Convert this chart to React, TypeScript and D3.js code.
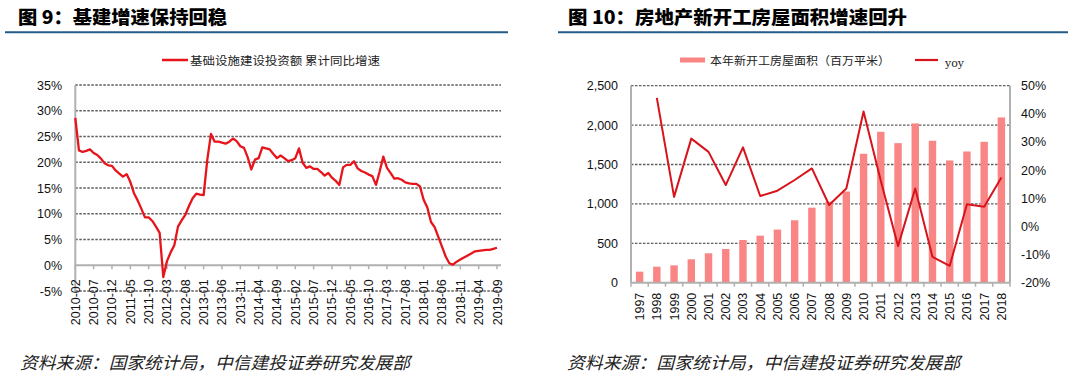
import React from "react";
import * as d3 from "d3";

// ---------- Left chart data: 基础设施建设投资额 累计同比增速 (%), monthly 2010-02 .. 2019-09 ----------
const infraStart = "2010-02";
const infraGrowth: number[] = [
  28.6, 22.3, 22.0, 22.2, 22.5, 21.8, 21.4, 20.7, 19.8, 19.4, 19.3, 18.4,
  17.8, 17.2, 17.7, 16.2, 14.0, 12.6, 11.0, 9.3, 9.3, 8.6, 7.5, 6.3,
  -2.3, 0.8, 2.5, 3.9, 7.5, 8.7, 9.8, 11.5, 13.0, 13.9, 13.7, 13.6,
  20.5, 25.5, 24.0, 24.0, 23.8, 23.6, 24.0, 24.6, 24.1, 23.1, 22.8, 21.0,
  18.6, 20.5, 20.8, 22.9, 22.7, 22.5, 21.6, 20.8, 21.3, 20.8, 20.2, 20.4,
  20.8, 22.7, 19.9, 18.9, 19.2, 18.7, 18.7, 18.1, 17.4, 17.9, 17.0, 16.4,
  15.6, 19.0, 19.5, 19.5, 20.2, 18.8, 18.3, 18.0, 17.6, 17.3, 15.6, 18.2,
  21.1, 18.9, 17.9, 16.8, 16.9, 16.6, 16.1, 15.9, 15.8, 15.8, 15.3, 12.7,
  11.2, 8.4, 7.4, 5.5, 3.6, 1.7, 0.4, 0.1, 0.7, 1.1, 1.5, 1.9,
  2.3, 2.7, 2.8, 2.9, 3.0, 3.0, 3.2, 3.4,
];
const infraTickLabels: string[] = [
  "2010-02", "2010-07", "2010-12", "2011-05", "2011-10", "2012-03", "2012-08", "2013-01",
  "2013-06", "2013-11", "2014-04", "2014-09", "2015-02", "2015-07", "2015-12", "2016-05",
  "2016-10", "2017-03", "2017-08", "2018-01", "2018-06", "2018-11", "2019-04", "2019-09",
];
const infraYTicks: number[] = [-5, 0, 5, 10, 15, 20, 25, 30, 35];

// ---------- Right chart data ----------
const years: string[] = [
  "1997", "1998", "1999", "2000", "2001", "2002", "2003", "2004", "2005", "2006", "2007",
  "2008", "2009", "2010", "2011", "2012", "2013", "2014", "2015", "2016", "2017", "2018",
];
const newStartArea: number[] = [
  140, 203, 220, 297, 373, 428, 542, 597, 674, 792, 952,
  1028, 1157, 1636, 1915, 1771, 2021, 1801, 1551, 1665, 1788, 2097,
];
const newStartYoy: (number | null)[] = [
  null, 45.7, 10.5, 31.2, 26.5, 14.7, 28.1, 10.8, 12.7, 16.5, 20.6,
  7.6, 13.5, 40.8, 16.2, -7.0, 13.5, -10.8, -14.0, 7.9, 7.0, 17.4,
];
const areaTicks: number[] = [0, 500, 1000, 1500, 2000, 2500];
const yoyTicks: number[] = [-20, -10, 0, 10, 20, 30, 40, 50];

const NUM_FONT = "'Liberation Sans', Arial, sans-serif";
const CJK_FONT = "'Noto Sans CJK SC', 'Noto Sans', sans-serif";
const GRID = "#5e5e5e";
const AXIS = "#b0b0b0";
const RULE = "#245a8a";

function LeftChart() {
  const parse = d3.timeParse("%Y-%m");
  const fmt = d3.timeFormat("%Y-%m");
  const start = parse(infraStart)!;
  const months = infraGrowth.map((_, i) => fmt(d3.timeMonth.offset(start, i)));
  const x = d3.scalePoint<string>().domain(months).range([75.3, 497]);
  const y = d3.scaleLinear().domain([-5, 35]).range([291, 85]);
  const line = d3
    .line<number>()
    .x((_, i) => x(months[i])!)
    .y((d) => y(d));
  const y0 = y(0);
  return (
    <g>
      <text x={18} y={24} fontFamily={CJK_FONT} fontWeight={900} fontSize={18} fill="#000" textLength={209} lengthAdjust="spacingAndGlyphs">
        图 9：基建增速保持回稳
      </text>
      <line x1={5} x2={508} y1={32.3} y2={32.3} stroke={RULE} strokeWidth={2} />
      {/* legend */}
      <line x1={162} x2={188} y1={60} y2={60} stroke="#e8141b" strokeWidth={2.5} />
      <text x={190} y={65} fontFamily={CJK_FONT} fontSize={11.5} fill="#222" textLength={190} lengthAdjust="spacingAndGlyphs">
        基础设施建设投资额 累计同比增速
      </text>
      {/* grid */}
      {infraYTicks.map((t) => (
        <g key={t}>
          {t !== 0 && (
            <line x1={75.3} x2={501} y1={y(t)} y2={y(t)} stroke={GRID} strokeWidth={1.3} strokeDasharray="2.5,1.5" />
          )}
          <text x={62} y={y(t) + 4.5} textAnchor="end" fontFamily={NUM_FONT} fontSize={12.5} fill="#111">
            {t}%
          </text>
        </g>
      ))}
      <line x1={75.3} x2={75.3} y1={85} y2={291} stroke={AXIS} strokeWidth={2} />
      <line x1={75.3} x2={501} y1={y0} y2={y0} stroke={AXIS} strokeWidth={2} />
      {infraTickLabels.map((lab) => {
        const xx = x(lab)!;
        return (
          <g key={lab}>
            <line x1={xx} x2={xx} y1={y0} y2={y0 + 4} stroke={AXIS} strokeWidth={1.5} />
            <text
              transform={`translate(${xx + 4.5},${y0 + 14}) rotate(-90)`}
              textAnchor="end"
              fontFamily={NUM_FONT}
              fontSize={12.5}
              fill="#111"
            >
              {lab}
            </text>
          </g>
        );
      })}
      <path d={line(infraGrowth)!} fill="none" stroke="#e8141b" strokeWidth={2.3} strokeLinejoin="round" />
      <text x={20} y={369} fontFamily={CJK_FONT} fontStyle="italic" fontSize={17} fill="#222" textLength={390} lengthAdjust="spacingAndGlyphs">
        资料来源：国家统计局，中信建投证券研究发展部
      </text>
    </g>
  );
}

function RightChart() {
  const x = d3.scaleBand<string>().domain(years).range([631, 1010]);
  const yL = d3.scaleLinear().domain([0, 2500]).range([282.7, 85.7]);
  const yR = d3.scaleLinear().domain([-20, 50]).range([282.7, 85.7]);
  const bw = x.bandwidth() * 0.43;
  const line = d3
    .line<number | null>()
    .defined((d) => d !== null)
    .x((_, i) => x(years[i])! + x.bandwidth() / 2)
    .y((d) => yR(d as number));
  const base = yL(0);
  return (
    <g>
      <text x={568} y={24} fontFamily={CJK_FONT} fontWeight={900} fontSize={18} fill="#000" textLength={339} lengthAdjust="spacingAndGlyphs">
        图 10：房地产新开工房屋面积增速回升
      </text>
      <line x1={558} x2={1068} y1={32.3} y2={32.3} stroke={RULE} strokeWidth={2} />
      {/* legend */}
      <rect x={680} y={57.5} width={25} height={5} fill="#f98585" />
      <text x={710} y={65} fontFamily={CJK_FONT} fontSize={11.5} fill="#222" textLength={180} lengthAdjust="spacingAndGlyphs">
        本年新开工房屋面积（百万平米）
      </text>
      <line x1={915} x2={938} y1={60} y2={60} stroke="#d7141b" strokeWidth={2.2} />
      <text x={945} y={67} fontFamily="'DejaVu Serif', serif" fontSize={11} fill="#222">
        yoy
      </text>
      {areaTicks.map((t) => (
        <g key={t}>
          {t !== 0 && (
            <line x1={631} x2={1010} y1={yL(t)} y2={yL(t)} stroke={GRID} strokeWidth={1.3} strokeDasharray="2.5,1.5" />
          )}
          <text x={618} y={yL(t) + 4.5} textAnchor="end" fontFamily={NUM_FONT} fontSize={12.5} fill="#111">
            {d3.format(",")(t)}
          </text>
        </g>
      ))}
      {yoyTicks.map((t) => (
        <text key={t} x={1021} y={yR(t) + 4.5} fontFamily={NUM_FONT} fontSize={12.5} fill="#111">
          {t}%
        </text>
      ))}
      {newStartArea.map((v, i) => {
        const cx = x(years[i])! + x.bandwidth() / 2;
        return <rect key={years[i]} x={cx - bw / 2} y={yL(v)} width={bw} height={base - yL(v)} fill="#f98585" />;
      })}
      <line x1={631} x2={631} y1={85.7} y2={base} stroke={AXIS} strokeWidth={2} />
      <line x1={1010} x2={1010} y1={85.7} y2={base} stroke={AXIS} strokeWidth={2} />
      <line x1={631} x2={1010} y1={base} y2={base} stroke={AXIS} strokeWidth={2} />
      {years.map((yr) => {
        const xx = x(yr)!;
        return <line key={"t" + yr} x1={xx} x2={xx} y1={base} y2={base + 4} stroke={AXIS} strokeWidth={1.5} />;
      })}
      <line x1={1010} x2={1010} y1={base} y2={base + 4} stroke={AXIS} strokeWidth={1.5} />
      {years.map((yr) => {
        const cx = x(yr)! + x.bandwidth() / 2;
        return (
          <text
            key={"l" + yr}
            transform={`translate(${cx + 4.5},${base + 10}) rotate(-90)`}
            textAnchor="end"
            fontFamily={NUM_FONT}
            fontSize={12.5}
            fill="#111"
          >
            {yr}
          </text>
        );
      })}
      <path d={line(newStartYoy)!} fill="none" stroke="#d7141b" strokeWidth={2} strokeLinejoin="round" />
      <text x={567} y={369} fontFamily={CJK_FONT} fontStyle="italic" fontSize={17} fill="#222" textLength={393} lengthAdjust="spacingAndGlyphs">
        资料来源：国家统计局，中信建投证券研究发展部
      </text>
    </g>
  );
}

export default function App() {
  return (
    <svg
      width={1080}
      height={379}
      viewBox="0 0 1080 379"
      style={{ position: "absolute", left: 0, top: 0, background: "#fff" }}
    >
      <rect width={1080} height={379} fill="#fff" />
      <LeftChart />
      <RightChart />
    </svg>
  );
}
